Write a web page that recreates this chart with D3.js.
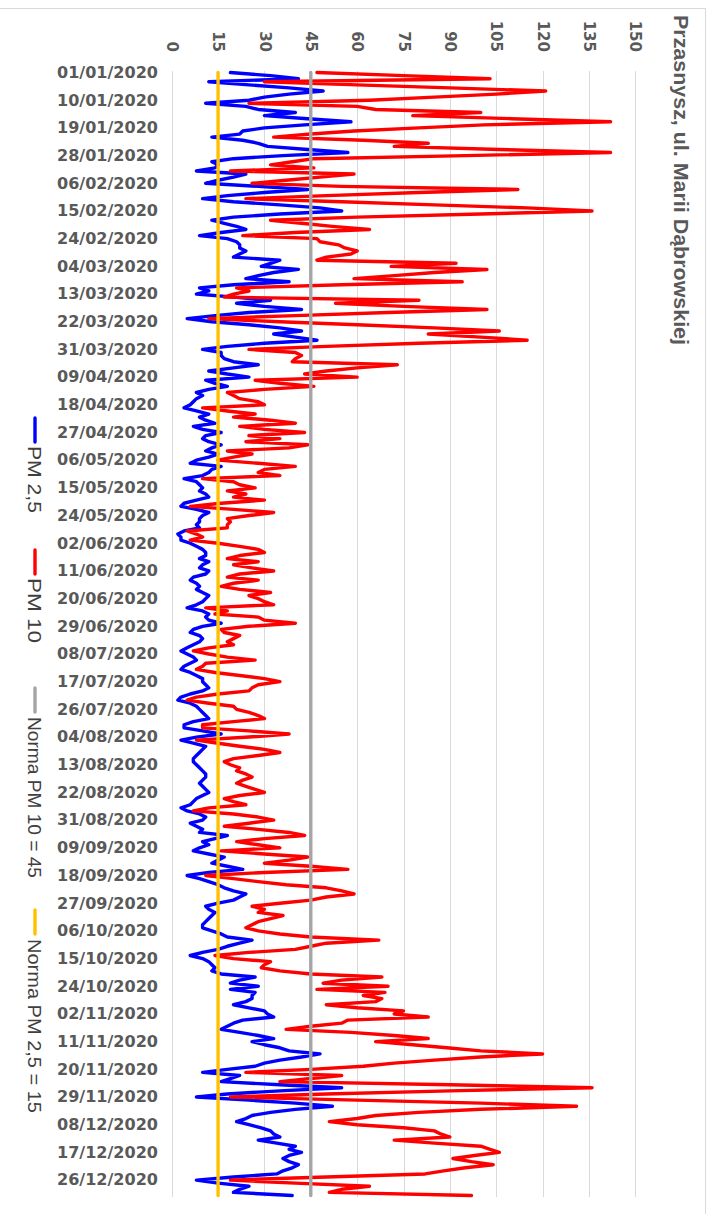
<!DOCTYPE html>
<html><head><meta charset="utf-8">
<script src="https://cdn.jsdelivr.net/npm/d3@7"></script>
<style>html,body{margin:0;padding:0;background:#fff;}svg{display:block;}</style>
</head><body>
<script>
const title = "Przasnysz, ul. Marii Dąbrowskiej";
const seriesNames = ["PM 2,5", "PM 10", "Norma PM 10 = 45", "Norma PM 2,5 = 15"];
const valueTicks = [0, 15, 30, 45, 60, 75, 90, 105, 120, 135, 150];
const normPM10 = 45;
const normPM25 = 15;
const tickLabels = ["01/01/2020","10/01/2020","19/01/2020","28/01/2020","06/02/2020","15/02/2020","24/02/2020","04/03/2020","13/03/2020","22/03/2020","31/03/2020","09/04/2020","18/04/2020","27/04/2020","06/05/2020","15/05/2020","24/05/2020","02/06/2020","11/06/2020","20/06/2020","29/06/2020","08/07/2020","17/07/2020","26/07/2020","04/08/2020","13/08/2020","22/08/2020","31/08/2020","09/09/2020","18/09/2020","27/09/2020","06/10/2020","15/10/2020","24/10/2020","02/11/2020","11/11/2020","20/11/2020","29/11/2020","08/12/2020","17/12/2020","26/12/2020"];

// daily values 01/01/2020 .. 31/12/2020
const pm10 = [
47,75,103,30,60,90,121,105,85,64,25,60,66,100,78,110,142,101,80,59,45,33,62,83,72,106,142,95,46,39,32,46,19,59,
48,37,26,55,112,80,50,24,55,85,115,136,100,60,32,42,52,64,40,23,47,48,54,56,60,58,50,47,92,71,102,85,72,59,94,
55,21,25,20,17,80,53,75,102,70,40,12,35,60,85,106,83,100,115,80,50,25,40,42,40,39,73,60,50,43,60,27,35,46,30,18,
20,22,28,30,10,18,27,20,32,40,22,30,43,25,35,24,44,38,18,26,20,15,28,40,30,28,35,10,20,22,27,18,24,20,30,16,
6,20,33,25,18,19,18,18,5,8,10,6,15,22,28,30,22,18,28,20,26,33,22,18,28,20,16,22,32,25,28,30,33,11,18,14,
28,30,40,25,16,17,22,20,18,20,12,7,12,18,27,11,10,8,14,22,30,35,28,26,25,15,8,5,12,20,21,25,28,30,20,10,
10,25,38,25,8,15,22,30,35,28,20,17,19,22,21,24,26,23,21,24,27,30,22,17,20,24,12,7,20,28,33,25,17,28,38,
43,30,21,28,35,16,30,44,38,30,45,57,30,11,20,28,37,50,55,59,50,45,35,26,30,28,36,32,28,26,24,28,35,45,67,50,
45,40,25,14,20,32,30,29,35,45,68,55,49,70,47,69,62,68,66,50,60,75,72,83,57,55,45,37,58,72,83,66,78,89,100,120,
100,85,72,62,45,24,55,45,35,90,136,90,50,19,60,100,131,100,80,66,60,51,60,75,85,87,90,72,85,100,103,106,98,91,97,104,95,88,82,50,19,40,64,55,51,97
];
const pm25 = [
19,32,41,12,25,38,49,38,30,25,11,24,28,40,30,44,58,43,30,23,22,13,23,28,31,44,57,36,20,13,15,14,8,24,
20,15,11,28,44,30,18,10,20,35,48,55,35,20,13,17,21,24,16,9,18,21,22,22,24,22,20,35,32,29,41,33,28,24,38,
20,9,12,8,20,32,21,30,42,25,14,5,13,25,35,42,33,40,47,30,18,10,16,16,17,20,28,20,12,18,25,11,14,18,12,8,
10,8,7,6,4,8,12,9,11,14,7,10,16,11,10,12,16,13,11,15,12,8,6,16,13,12,10,4,8,9,10,9,11,12,8,4,
3,8,12,10,9,9,8,9,4,2,3,3,6,8,10,11,11,9,12,10,9,12,11,7,6,8,9,8,10,12,11,10,8,5,10,12,
11,12,16,10,7,6,9,10,9,7,5,3,5,7,8,6,4,3,6,8,10,10,11,12,10,6,3,2,6,8,9,10,11,12,7,4,
4,10,16,8,3,7,11,10,9,8,7,7,8,9,10,11,11,10,9,10,11,12,10,8,7,6,3,5,9,11,10,6,8,10,9,
18,14,10,12,9,7,12,17,15,13,18,23,12,5,9,12,15,17,20,24,22,20,15,11,12,14,13,12,11,10,10,13,16,18,26,22,
18,15,10,6,10,12,13,14,13,16,27,22,19,28,19,27,26,26,24,20,25,30,31,33,23,20,18,16,22,28,33,26,30,35,38,48,
42,35,30,27,18,10,22,19,16,35,55,35,18,8,25,40,52,40,32,26,24,21,25,29,32,33,35,28,34,40,38,42,38,36,38,41,39,36,34,20,8,15,25,22,20,39
];

const W = 707, H = 1214;
const parse = d3.timeParse("%d/%m/%Y");
const fmt = d3.timeFormat("%d/%m/%Y");
const dates = d3.timeDay.range(new Date(2020,0,1), new Date(2021,0,1));
const tickDates = tickLabels.map(parse);

const svg = d3.select("body").append("svg").attr("width", W).attr("height", H);

// chart frame
svg.append("rect").attr("x", -5).attr("y", 8.5).attr("width", 710.5).attr("height", 1230)
  .attr("fill", "#fff").attr("stroke", "#d9d9d9").attr("stroke-width", 1);

const x = d3.scaleLinear().domain([0, 150]).range([171.7, 635.3]);
const y = d3.scalePoint().domain(dates).range([71, 1197]).padding(0.5);

// gridlines
svg.append("g").selectAll("line").data(valueTicks).join("line")
  .attr("x1", d => Math.round(x(d)) + 0.5).attr("x2", d => Math.round(x(d)) + 0.5)
  .attr("y1", 71).attr("y2", 1197)
  .attr("stroke", "#d9d9d9").attr("stroke-width", 1);

// value axis (top), rotated labels
const gx = svg.append("g").attr("transform", "translate(0,71)")
  .call(d3.axisTop(x).tickValues(valueTicks).tickSize(0).tickPadding(0));
gx.select(".domain").remove();
gx.selectAll(".tick text")
  .attr("y", 0).attr("dy", "0.36em")
  .attr("text-anchor", "end")
  .attr("transform", "translate(0,-19) rotate(90)")
  .attr("fill", "#595959")
  .style("font-family", "DejaVu Sans, Verdana, sans-serif")
  .style("font-weight", "bold").style("font-size", "15px");

// date axis (left)
const gy = svg.append("g").attr("transform", "translate(172,0)")
  .call(d3.axisLeft(y).tickValues(tickDates).tickFormat(fmt).tickSize(0).tickPadding(14));
gy.select(".domain").remove();
gy.selectAll(".tick text")
  .attr("fill", "#595959")
  .attr("textLength", 101).attr("lengthAdjust", "spacingAndGlyphs")
  .style("font-family", "DejaVu Sans, Verdana, sans-serif")
  .style("font-weight", "bold").style("font-size", "15px");

// series
const line = d3.line().x(d => x(d[1])).y(d => y(d[0])).curve(d3.curveLinear);
const series = [
  {name: seriesNames[0], values: pm25, color: "#0000ff", w: 3.4},
  {name: seriesNames[1], values: pm10, color: "#ff0000", w: 3.4},
  {name: seriesNames[2], values: dates.map(() => normPM10), color: "#a5a5a5", w: 3.4},
  {name: seriesNames[3], values: dates.map(() => normPM25), color: "#ffc000", w: 3.4}
];
series.forEach(s => {
  svg.append("path")
    .datum(dates.map((d, i) => [d, s.values[i]]))
    .attr("d", line).attr("fill", "none")
    .attr("stroke", s.color).attr("stroke-width", s.w)
    .attr("stroke-linejoin", "round").attr("stroke-linecap", "round");
});

// title (rotated)
svg.append("text").text(title)
  .attr("transform", "translate(681,15) rotate(90)")
  .attr("dy", "0.36em").attr("text-anchor", "start")
  .attr("textLength", 330).attr("lengthAdjust", "spacingAndGlyphs")
  .attr("fill", "#595959")
  .style("font-family", "Liberation Sans, Arial, sans-serif")
  .style("font-weight", "bold").style("font-size", "20px");

// legend (rotated)
const legendPos = [
  {s0: 418, s1: 442, t0: 446, len: 67},
  {s0: 550, s1: 574, t0: 578, len: 65},
  {s0: 688, s1: 712, t0: 717, len: 161},
  {s0: 910, s1: 934, t0: 939, len: 174}
];
const lg = svg.append("g");
series.forEach((s, i) => {
  const p = legendPos[i];
  lg.append("line").attr("x1", 35).attr("x2", 35).attr("y1", p.s0).attr("y2", p.s1)
    .attr("stroke", s.color).attr("stroke-width", 3.4).attr("stroke-linecap", "round");
  lg.append("text").text(s.name)
    .attr("transform", `translate(35,${p.t0}) rotate(90)`)
    .attr("dy", "0.36em").attr("text-anchor", "start")
    .attr("textLength", p.len).attr("lengthAdjust", "spacingAndGlyphs")
    .attr("fill", "#404040")
    .style("font-family", "Liberation Sans, Arial, sans-serif")
    .style("font-size", "19px");
});
</script>
</body></html>
